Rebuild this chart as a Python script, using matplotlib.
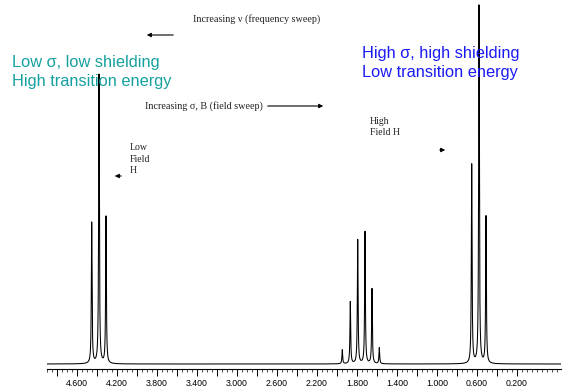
import numpy as np
import matplotlib
matplotlib.use("Agg")
import matplotlib.pyplot as plt
from matplotlib.ticker import MultipleLocator, FixedLocator

# Peak positions (ppm) and heights
ppm_low = [4.453, 4.380, 4.310]
h_low = [141, 289, 147]
ppm_mid = [1.947, 1.867, 1.793, 1.720, 1.650, 1.577]
h_mid = [14, 62, 124, 132, 75, 16]
ppm_high = [0.653, 0.580, 0.510]
h_high = [199, 358, 147]

tick_labels = [4.6, 4.2, 3.8, 3.4, 3.0, 2.6, 2.2, 1.8, 1.4, 1.0, 0.6, 0.2]

W, H = 566, 391
fig = plt.figure(figsize=(W / 100, H / 100), dpi=100)

def fx(x):
    return x / W

def fy(y):
    return 1 - y / H

# axes placed in pixel terms
ax = fig.add_axes([fx(47), fy(369), (561 - 47) / W, (369 - 4) / H])

# build the spectrum as a sum of narrow lorentzians
x = np.linspace(4.9, -0.24, 30000)
w = 0.0042
y = np.zeros_like(x)
for pos, hh in zip(ppm_low + ppm_mid + ppm_high, h_low + h_mid + h_high):
    y += hh * w**2 / ((x - pos)**2 + w**2)

ax.plot(x, y, color="black", lw=0.75)
ax.set_xlim(4.9, -0.24)
ax.set_ylim(-5, 360)

for s in ["top", "left", "right"]:
    ax.spines[s].set_visible(False)
ax.spines["bottom"].set_linewidth(0.8)
ax.set_yticks([])

majors = np.round(np.arange(0.2, 4.81, 0.2), 3)
ax.xaxis.set_major_locator(FixedLocator(majors))
ax.xaxis.set_minor_locator(MultipleLocator(0.05))
ax.set_xticklabels(["%.3f" % v if any(abs(v - t) < 1e-6 for t in tick_labels) else ""
                    for v in majors])
ax.tick_params(axis="x", which="major", length=5, width=0.7, direction="out",
               labelsize=6.3, pad=2)
ax.tick_params(axis="x", which="minor", length=2.5, width=0.5, direction="out")
for lab in ax.get_xticklabels():
    lab.set_family("Liberation Sans")

serif = "Liberation Serif"
sans = "Liberation Sans"

def arrow(x0, y0, x1, y1):
    fig.add_artist(matplotlib.patches.FancyArrowPatch(
        (fx(x0), fy(y0)), (fx(x1), fy(y1)), transform=fig.transFigure,
        arrowstyle="-|>", mutation_scale=6, lw=0.8, color="black"))

fig.text(fx(193), fy(19), "Increasing \u03bd (frequency sweep)", family=serif,
         fontsize=7.3, va="center", ha="left", color="#222222")
arrow(176, 35, 144, 35)

fig.text(fx(12), fy(72), "Low \u03c3, low shielding\nHigh transition energy",
         family=sans, fontsize=11.8, color="#16a0a0", va="center", ha="left",
         linespacing=1.38)

fig.text(fx(145), fy(106), "Increasing \u03c3, B (field sweep)", family=serif,
         fontsize=7.3, va="center", ha="left", color="#222222")
arrow(265, 106, 326, 106)

fig.text(fx(130), fy(159), "Low\nField\nH", family=serif, fontsize=7,
         va="center", ha="left", color="#222222", linespacing=1.3)
arrow(124, 176, 112, 176)

fig.text(fx(370), fy(127), "High\nField H", family=serif, fontsize=7,
         va="center", ha="left", color="#222222", linespacing=1.3)
arrow(437, 150, 448, 150)

fig.text(fx(362), fy(63), "High \u03c3, high shielding\nLow transition energy",
         family=sans, fontsize=11.8, color="#1a1af5", va="center", ha="left",
         linespacing=1.38)

fig.savefig("out.png", dpi=100)
